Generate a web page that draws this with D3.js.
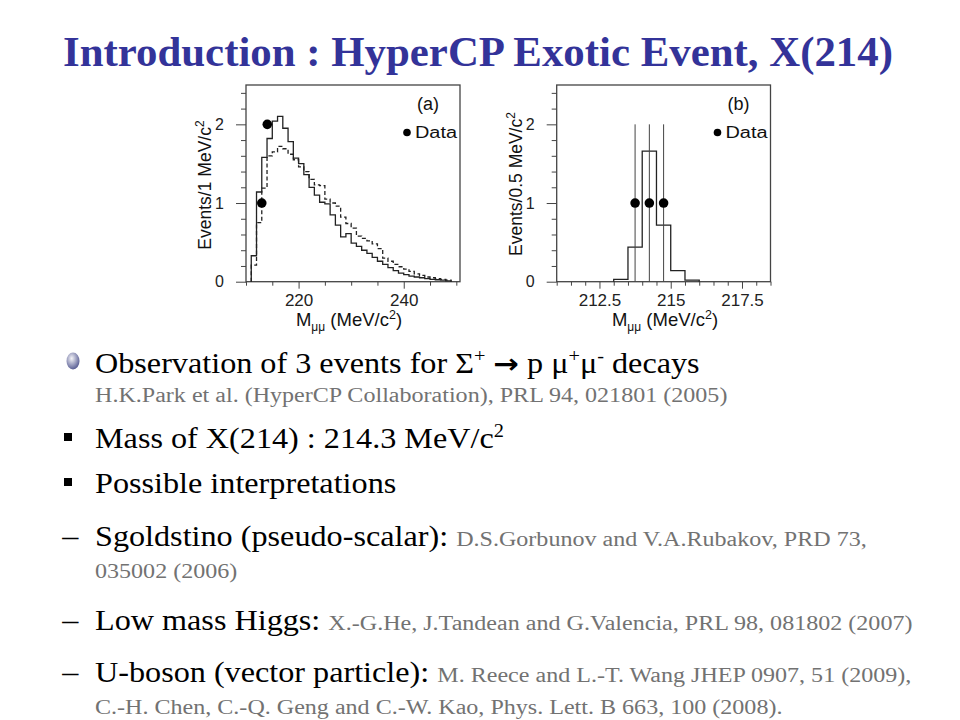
<!DOCTYPE html>
<html>
<head>
<meta charset="utf-8">
<script src="https://cdn.jsdelivr.net/npm/d3@7"></script>
<style>
  body { margin: 0; background: #fff; }
  svg { display: block; }
  .tick text { font-family: "Liberation Sans", Arial, sans-serif; fill: #222; }
  .xt .tick text { font-size: 17px; }
  .yt .tick text { font-size: 16px; }
  .tick line { stroke: #444; stroke-width: 1; }
</style>
</head>
<body>
<svg id="slide" width="960" height="720"></svg>
<script>
// ---- panel (a): 1 MeV bins, solid = signal MC, dashed = alternative MC
var binLowA = [211, 212, 213, 214, 215, 216, 217, 218, 219, 220, 221, 222, 223, 224, 225, 226, 227, 228, 229,
  230, 231, 232, 233, 234, 235, 236, 237, 238, 239, 240, 241, 242, 243, 244, 245, 246, 247, 248];
var solidA = [0.33, 1.14, 1.58, 1.82, 2.04, 2.10, 1.95, 1.78, 1.57, 1.50, 1.36, 1.20, 1.10, 1.01, 0.99, 0.85, 0.72, 0.57, 0.61,
  0.49, 0.45, 0.40, 0.36, 0.31, 0.26, 0.22, 0.18, 0.14, 0.11, 0.09, 0.07, 0.06, 0.05, 0.04, 0.03, 0.025, 0.02, 0.01];
var dashA = [0.21, 0.75, 1.19, 1.60, 1.65, 1.72, 1.69, 1.62, 1.55, 1.46, 1.40, 1.30, 1.23, 1.22, 1.05, 1.00, 0.96, 0.82, 0.74,
  0.68, 0.58, 0.55, 0.52, 0.48, 0.42, 0.30, 0.26, 0.22, 0.19, 0.16, 0.13, 0.10, 0.08, 0.06, 0.05, 0.04, 0.03, 0.02];
var dataXA = [213.0, 214.05];
var dataYA = [1, 2];

// ---- panel (b): 0.5 MeV bins
var binLowB = [213.0, 213.5, 214.0, 214.5, 215.0, 215.5];
var histB = [0.03, 0.44, 1.66, 0.72, 0.14, 0.02];
var dataXB = [213.75, 214.25, 214.75];
var dataYB = [1, 1, 1];
var errTopB = 2;

var ticksYMajor = [0, 1, 2];
var ticksYMinor = [0.2, 0.4, 0.6, 0.8, 1.2, 1.4, 1.6, 1.8, 2.2, 2.4];
var ticksXMajorA = [220, 240];
var ticksXMinorA = [210, 215, 225, 230, 235, 245, 250];
var ticksXMajorB = [212.5, 215, 217.5];
var ticksXMinorB = [211, 211.5, 212, 213, 213.5, 214, 214.5, 215.5, 216, 216.5, 217, 218, 218.5];

var svg = d3.select('#slide');
var serif = '"Liberation Serif", "Times New Roman", serif';
var sans = '"Liberation Sans", Arial, sans-serif';

//Title
svg.append('text')
  .attr('x', 478).attr('y', 66)
  .attr('text-anchor', 'middle')
  .attr('textLength', 830).attr('lengthAdjust', 'spacingAndGlyphs')
  .style('font-family', serif).style('font-weight', 'bold').style('font-size', '43px')
  .attr('fill', '#333399')
  .text('Introduction : HyperCP Exotic Event, X(214)');

function stepPoints(lows, width, vals) {
  var pts = [[lows[0], 0]];
  for (var i = 0; i < lows.length; i++) {
    pts.push([lows[i], vals[i]]);
    pts.push([lows[i] + width, vals[i]]);
  }
  pts.push([lows[lows.length - 1] + width, 0]);
  return pts;
}

function drawPanel(opt) {
  var g = svg.append('g');
  var x = d3.scaleLinear().domain(opt.xDomain).range([opt.left, opt.right]);
  var y = d3.scaleLinear().domain([0, 2.5]).range([281.7, 85]);

  //axes: minor + major ticks, frame drawn separately
  g.append('g').attr('transform', 'translate(0,281.7)')
    .call(d3.axisBottom(x).tickValues(opt.minorX).tickSize(4).tickFormat(''))
    .call(function(s) { s.select('.domain').remove(); });
  g.append('g').attr('class', 'xt').attr('transform', 'translate(0,281.7)')
    .call(d3.axisBottom(x).tickValues(opt.majorX).tickSize(7).tickPadding(5).tickFormat(d3.format('')))
    .call(function(s) { s.select('.domain').remove(); });
  g.append('g').attr('transform', 'translate(' + opt.left + ',0)')
    .call(d3.axisLeft(y).tickValues(ticksYMinor).tickSize(5).tickFormat(''))
    .call(function(s) { s.select('.domain').remove(); });
  g.append('g').attr('class', 'yt').attr('transform', 'translate(' + opt.left + ',0)')
    .call(d3.axisLeft(y).tickValues(ticksYMajor).tickSize(10).tickPadding(12).tickFormat(d3.format('d')))
    .call(function(s) { s.select('.domain').remove(); });

  g.append('rect')
    .attr('x', opt.left).attr('y', y(2.5))
    .attr('width', opt.right - opt.left).attr('height', y(0) - y(2.5))
    .attr('fill', 'none').attr('stroke', '#444').attr('stroke-width', 1.3);

  var line = d3.line().x(function(d) { return x(d[0]); }).y(function(d) { return y(d[1]); });

  opt.hists.forEach(function(h) {
    g.append('path')
      .attr('d', line(stepPoints(h.lows, h.width, h.vals)))
      .attr('fill', 'none').attr('stroke', '#222').attr('stroke-width', 1.3)
      .attr('stroke-dasharray', h.dash || null);
  });

  if (opt.errTop) {
    opt.dataX.forEach(function(d) {
      g.append('line')
        .attr('x1', x(d)).attr('x2', x(d)).attr('y1', y(0)).attr('y2', y(opt.errTop))
        .attr('stroke', '#444').attr('stroke-width', 1);
    });
  }

  opt.dataX.forEach(function(d, i) {
    g.append('circle').attr('cx', x(d)).attr('cy', y(opt.dataY[i])).attr('r', 4.8).attr('fill', '#000');
  });

  //panel tag + legend
  g.append('text').attr('x', opt.right - 32).attr('y', 110)
    .attr('text-anchor', 'middle')
    .style('font-family', sans).style('font-size', '18px').attr('fill', '#111')
    .text(opt.tag);
  g.append('circle').attr('cx', opt.right - 53).attr('cy', 132.5).attr('r', 3.8).attr('fill', '#000');
  g.append('text').attr('x', opt.right - 45).attr('y', 138)
    .attr('textLength', 42).attr('lengthAdjust', 'spacingAndGlyphs')
    .style('font-family', sans).style('font-size', '16px').attr('fill', '#111')
    .text('Data');

  //y title
  var yt = g.append('text')
    .attr('transform', 'translate(' + (opt.left - 35) + ',' + opt.yTitleY + ') rotate(-90)')
    .attr('text-anchor', 'middle')
    .style('font-family', sans).style('font-size', '17.5px').attr('fill', '#111');
  yt.append('tspan').text(opt.yTitle);
  yt.append('tspan').attr('dy', -7).style('font-size', '12px').text('2');

  //x title
  var xt = g.append('text')
    .attr('x', opt.xTitleX).attr('y', 326)
    .attr('text-anchor', 'middle')
    .style('font-family', sans).style('font-size', '18.5px').attr('fill', '#111');
  xt.append('tspan').text('M');
  xt.append('tspan').attr('dy', 5).style('font-size', '12px').text('\u03bc\u03bc');
  xt.append('tspan').attr('dy', -5).text(' (MeV/c');
  xt.append('tspan').attr('dy', -7).style('font-size', '12.5px').text('2');
  xt.append('tspan').attr('dy', 7).text(')');
}

drawPanel({
  left: 246, right: 460, xDomain: [210, 250.7],
  majorX: ticksXMajorA, minorX: ticksXMinorA,
  hists: [
    { lows: binLowA, width: 1, vals: dashA, dash: '4,2.5' },
    { lows: binLowA, width: 1, vals: solidA }
  ],
  dataX: dataXA, dataY: dataYA,
  tag: '(a)', yTitle: 'Events/1 MeV/c', yTitleY: 185, xTitleX: 349
});

drawPanel({
  left: 556.7, right: 770.5, xDomain: [211, 218.5],
  majorX: ticksXMajorB, minorX: ticksXMinorB,
  hists: [{ lows: binLowB, width: 0.5, vals: histB }],
  dataX: dataXB, dataY: dataYB, errTop: errTopB,
  tag: '(b)', yTitle: 'Events/0.5 MeV/c', yTitleY: 184, xTitleX: 665
});

// ---- bullet text
var defs = svg.append('defs');
var grad = defs.append('radialGradient').attr('id', 'ball').attr('cx', '40%').attr('cy', '35%').attr('r', '65%');
grad.append('stop').attr('offset', '0%').attr('stop-color', '#f4f4f8');
grad.append('stop').attr('offset', '100%').attr('stop-color', '#5a5f95');
svg.append('ellipse').attr('cx', 73).attr('cy', 361).attr('rx', 6.5).attr('ry', 8.5).attr('fill', 'url(#ball)');

svg.append('rect').attr('x', 64).attr('y', 433).attr('width', 8).attr('height', 8).attr('fill', '#000');
svg.append('rect').attr('x', 64).attr('y', 478).attr('width', 8).attr('height', 8).attr('fill', '#000');

//slide text is a bit wider than plain Times, stretch horizontally
var body = svg.append('g').attr('transform', 'translate(95,0) scale(1.13,1)');
var big = '28.5px', small = '21.3px', gray = '#727272';

function textLine(xp, yp) {
  return body.append('text').attr('x', xp).attr('y', yp)
    .style('font-family', serif).style('font-size', big).attr('fill', '#000');
}

var t1 = textLine(0, 373);
t1.append('tspan').text('Observation of 3 events for \u03a3');
t1.append('tspan').attr('dy', -11).style('font-size', '18px').text('+');
t1.append('tspan').attr('dy', 11).text('  ');
t1.append('tspan').style('font-weight', 'bold').style('font-family', '"DejaVu Sans", sans-serif').style('font-size', '27px').text('\u2192');
t1.append('tspan').text(' p \u03bc');
t1.append('tspan').attr('dy', -11).style('font-size', '18px').text('+');
t1.append('tspan').attr('dy', 11).text('\u03bc');
t1.append('tspan').attr('dy', -11).style('font-size', '18px').text('-');
t1.append('tspan').attr('dy', 11).text(' decays');

textLine(0, 402).style('font-size', small).attr('fill', gray)
  .text('H.K.Park et al. (HyperCP Collaboration), PRL 94, 021801 (2005)');

var t3 = textLine(0, 448);
t3.append('tspan').text('Mass of X(214) : 214.3 MeV/c');
t3.append('tspan').attr('dy', -11).style('font-size', '18px').text('2');

textLine(0, 493).text('Possible interpretations');

textLine(-29, 546).text('\u2013');
var t5 = textLine(0, 546);
t5.append('tspan').text('Sgoldstino (pseudo-scalar): ');
t5.append('tspan').style('font-size', small).attr('fill', gray).text('D.S.Gorbunov and V.A.Rubakov, PRD 73,');
textLine(0, 578).style('font-size', small).attr('fill', gray).text('035002 (2006)');

textLine(-29, 630).text('\u2013');
var t7 = textLine(0, 630);
t7.append('tspan').text('Low mass Higgs: ');
t7.append('tspan').style('font-size', small).attr('fill', gray).text('X.-G.He, J.Tandean and G.Valencia, PRL 98, 081802 (2007)');

textLine(-29, 682).text('\u2013');
var t8 = textLine(0, 682);
t8.append('tspan').text('U-boson (vector particle): ');
t8.append('tspan').style('font-size', small).attr('fill', gray).text('M. Reece and L.-T. Wang JHEP 0907, 51 (2009),');
textLine(0, 714).style('font-size', small).attr('fill', gray)
  .text('C.-H. Chen, C.-Q. Geng and C.-W. Kao, Phys. Lett. B 663, 100 (2008).');
</script>
</body>
</html>
